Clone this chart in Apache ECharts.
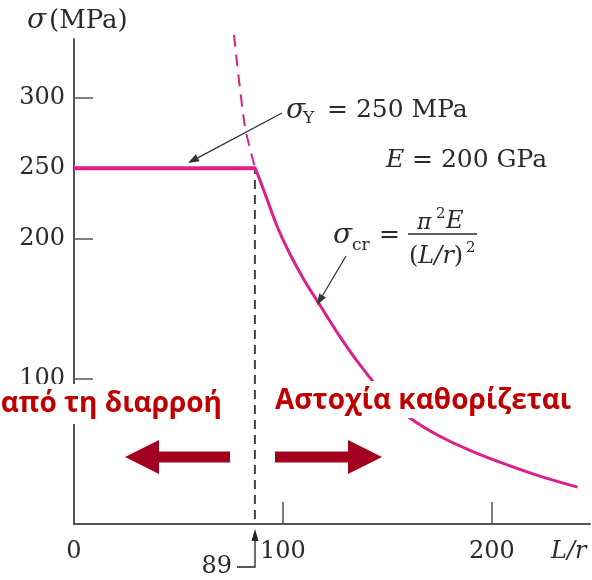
<!DOCTYPE html>
<html><head><meta charset="utf-8">
<script src="https://cdn.jsdelivr.net/npm/echarts@6/dist/echarts.min.js"></script>
<style>html,body{margin:0;padding:0;background:#fff}#c{width:592px;height:580px}</style>
</head><body><div id="c"></div>
<script>
// ---- data ----
const yieldStress = [[0, 250], [87, 250]];
const eulerCurve = [[86.6, 250.7], [91.4, 232], [97.1, 209], [103.3, 189], [110.5, 169.5], [117.7, 152.5], [127.3, 130], [136.8, 110], [148.8, 88], [160.8, 72], [175.1, 59], [189.5, 49], [203.8, 40.6], [223, 30.6], [241, 22.8]];
const eulerDashed = [[76.6, 345], [81.8, 280], [86.6, 250.7]];
const limitLine = [[86.6, 0], [86.6, 250]];
const xTickValues = [100, 200];
const xLabelValues = [0, 100, 200];
const yTickValues = [100, 200, 250, 300];

const SERIF = '"DejaVu Serif", "Liberation Serif", serif';
const SANS = '"Open Sans", "Liberation Sans", Arial, sans-serif';
const MAG = '#dc1f8a';
const AX = '#555';
const TXT = '#2a2a2a';

const chart = echarts.init(document.getElementById('c'), null, {renderer: 'canvas'});

function txt(text, x, y, size, opts) {
  opts = opts || {};
  const st = {
    text: text, x: x, y: y,
    fontFamily: opts.family || SERIF, fontSize: size,
    fontStyle: opts.italic ? 'italic' : 'normal',
    fontWeight: opts.bold ? 'bold' : 'normal',
    fill: opts.color || TXT,
    align: opts.align || 'left', verticalAlign: 'middle'
  };
  if (opts.rich) st.rich = opts.rich;
  return {type: 'text', z: 110, style: st};
}
function leader(x1, y1, x2, y2, color, w, hl, hw) {
  const dx = x2 - x1, dy = y2 - y1, L = Math.hypot(dx, dy);
  const ux = dx / L, uy = dy / L, px = -uy, py = ux;
  const bx = x2 - ux * hl, by = y2 - uy * hl;
  return [
    {type: 'line', z: 110, shape: {x1: x1, y1: y1, x2: bx, y2: by}, style: {stroke: color, lineWidth: w}},
    {type: 'polygon', z: 110, shape: {points: [[x2, y2], [bx + px * hw, by + py * hw], [bx - px * hw, by - py * hw]]}, style: {fill: color}}
  ];
}
function fatArrow(tail, tip, cy, dir) {
  const headLen = 34, headH = 17, shaftH = 5.5;
  const hb = tip - dir * headLen;
  return {
    type: 'polygon', z: 110,
    shape: {points: [[tail, cy - shaftH], [hb, cy - shaftH], [hb, cy - headH], [tip, cy], [hb, cy + headH], [hb, cy + shaftH], [tail, cy + shaftH]]},
    style: {fill: '#a3001f'}
  };
}

const graphics = [
  // axis titles
  txt('σ', 27, 21, 28, {italic: true}),
  txt('(MPa)', 49, 21, 26),
  txt('L/r', 551, 552, 24, {italic: true}),
  // sigma_Y
  txt('σ', 286, 111, 28, {italic: true}),
  txt('Y', 303, 119, 17),
  txt('= 250 MPa', 327, 110, 25),
  // E
  txt('E', 386, 160, 25, {italic: true}),
  txt('= 200 GPa', 412, 160, 25),
  // sigma_cr
  txt('σ', 333, 236, 28, {italic: true}),
  txt('cr', 352, 246, 17),
  txt('=', 379, 235, 25),
  txt('π', 417, 223, 22, {italic: true}),
  txt('2', 436, 214, 15),
  txt('E', 446, 222, 24, {italic: true}),
  {type: 'line', z: 110, shape: {x1: 408, y1: 234, x2: 477, y2: 234}, style: {stroke: TXT, lineWidth: 1.3}},
  txt('{n|(}{i|L/r}{n|)}', 409, 257, 24, {rich: {
    n: {fontFamily: SERIF, fontSize: 24, fill: TXT},
    i: {fontFamily: SERIF, fontSize: 24, fontStyle: 'italic', fill: TXT}
  }}),
  txt('2', 466, 248, 15),
  // 89 marker
  txt('89', 232, 567, 24, {align: 'right'}),
  {type: 'polyline', z: 110, shape: {points: [[237, 567], [255, 567], [255, 540]]}, style: {stroke: '#222', lineWidth: 1.3, fill: null}},
  {type: 'polygon', z: 110, shape: {points: [[255, 529], [251.5, 541], [258.5, 541]]}, style: {fill: '#222'}},
  // white boxes behind Greek text
  {type: 'rect', z: 105, shape: {x: 0, y: 384, width: 232, height: 40}, style: {fill: '#fff'}},
  {type: 'rect', z: 105, shape: {x: 265, y: 381, width: 327, height: 37}, style: {fill: '#fff'}},
  txt('από τη διαρροή', 222, 404, 28, {family: SANS, bold: true, color: '#c00000', align: 'right'}),
  txt('Αστοχία καθορίζεται', 275, 401, 28, {family: SANS, bold: true, color: '#c00000'}),
  fatArrow(230, 125, 457, -1),
  fatArrow(275, 382, 457, 1)
].concat(leader(282, 113, 188, 163, '#333', 1.3, 11, 4))
 .concat(leader(346, 256, 317, 305, '#333', 1.3, 11, 4));

const option = {
  backgroundColor: '#fff',
  animation: false,
  grid: {left: 74, right: 2, top: 39, bottom: 56, containLabel: false},
  xAxis: {
    type: 'value', min: 0, max: 247,
    splitLine: {show: false},
    axisLine: {onZero: false, lineStyle: {color: AX, width: 2}},
    axisTick: {show: true, inside: true, length: 22, customValues: xTickValues, lineStyle: {color: AX, width: 1.5}},
    axisLabel: {customValues: xLabelValues, margin: 16, fontFamily: SERIF, fontSize: 24, color: TXT}
  },
  yAxis: {
    type: 'value', min: -3.5, max: 342,
    splitLine: {show: false},
    axisLine: {show: true, lineStyle: {color: AX, width: 2}},
    axisTick: {show: true, inside: true, length: 19, customValues: yTickValues, lineStyle: {color: AX, width: 1.5}},
    axisLabel: {customValues: yTickValues, margin: 9, fontFamily: SERIF, fontSize: 24, color: TXT}
  },
  series: [
    {type: 'line', data: limitLine, symbol: 'none', z: 2, lineStyle: {color: '#444', width: 2, type: [9, 6]}},
    {type: 'line', data: eulerDashed, symbol: 'none', clip: false, smooth: 0.3, z: 3, lineStyle: {color: MAG, width: 2, type: [12, 8]}},
    {type: 'line', data: yieldStress, symbol: 'none', z: 4, lineStyle: {color: MAG, width: 4}},
    {type: 'line', data: eulerCurve, symbol: 'none', smooth: 0.3, z: 4, lineStyle: {color: MAG, width: 3}}
  ],
  graphic: graphics
};
chart.setOption(option);
</script>
</body></html>
